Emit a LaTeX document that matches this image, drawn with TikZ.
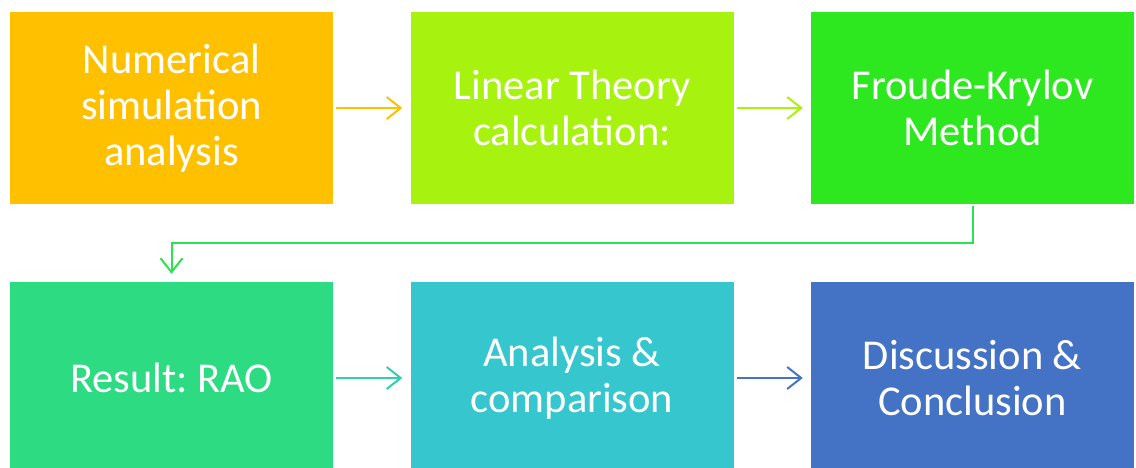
\documentclass[tikz,border=0pt]{standalone}
\usepackage{fontspec}
\setmainfont{Carlito}
\frenchspacing
\usetikzlibrary{arrows.meta}
\definecolor{c1}{HTML}{FFC000}
\definecolor{c2}{HTML}{A8F20F}
\definecolor{c3}{HTML}{2DE81F}
\definecolor{c4}{HTML}{2CDB82}
\definecolor{c5}{HTML}{36C6CE}
\definecolor{c6}{HTML}{4472C4}
\tikzset{
  box/.style={rectangle, minimum width=323pt, minimum height=192pt, inner sep=0pt,
    text=white, align=center, font=\fontsize{42.5}{46}\selectfont},
  conn/.style={line width=2pt, -{Straight Barb[length=14pt,width=22pt,line width=2pt]}},
}
\begin{document}
\begin{tikzpicture}[x=1pt,y=-1pt]
\useasboundingbox (0,0) rectangle (1136,468);
\node[box, fill=c1] (b1) at (171.5,108) {Numerical\\simulation\\analysis};
\node[box, fill=c2] (b2) at (572,108) {Linear Theory\\calculation:};
\node[box, fill=c3] (b3) at (972.5,108) {Froude-Krylov\\Method};
\begin{scope}
\clip (0,0) rectangle (1136,468);
\node[box, fill=c4] (b4) at (171.5,378) {Result: RAO};
\node[box, fill=c5] (b5) at (572,378) {Analysis \&\\comparison};
\node[box, fill=c6] (b6) at (972.5,378) {Discussion \&\\Conclusion};
\end{scope}
\coordinate (e1) at (972.5,243);
\coordinate (e2) at (171.5,243);
\draw[conn, c1, shorten <=3pt, shorten >=8pt] (b1) -- (b2);
\draw[conn, c2, shorten <=3pt, shorten >=8pt] (b2) -- (b3);
\draw[conn, c3!50!c4, shorten <=2pt, shorten >=8pt] (b3.south) -- (e1) -- (e2) -- (b4.north);
\draw[conn, c5!60!c4, shorten <=3pt, shorten >=8pt] (b4) -- (b5);
\draw[conn, c6, shorten <=3pt, shorten >=8pt] (b5) -- (b6);
\end{tikzpicture}
\end{document}
